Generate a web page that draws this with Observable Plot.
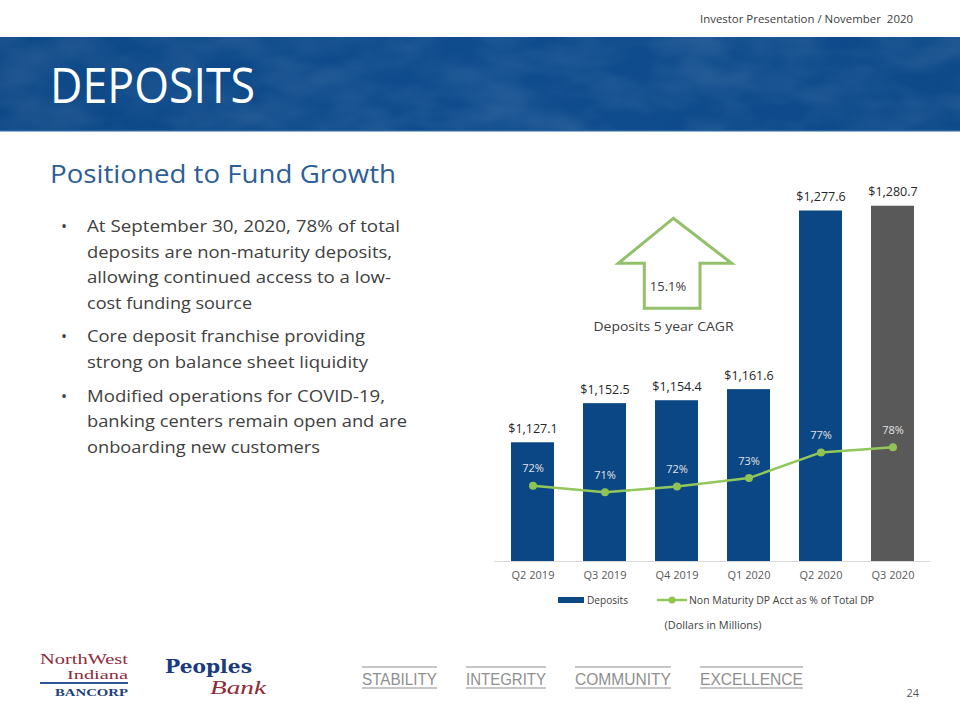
<!DOCTYPE html>
<html><head><meta charset="utf-8">
<script src="https://cdn.jsdelivr.net/npm/d3@7"></script>
<script src="https://cdn.jsdelivr.net/npm/@observablehq/plot@0.6"></script>
<style>
html,body{margin:0;padding:0;background:#fff;}
#slide{position:relative;width:960px;height:720px;overflow:hidden;font-family:"Open Sans",sans-serif;}
#bg{position:absolute;left:0;top:0;}
#chart{position:absolute;left:480px;top:170px;}
#fg{position:absolute;left:0;top:0;pointer-events:none;}
svg text{font-family:"Open Sans",sans-serif;}
</style></head><body>
<div id="slide">
<svg id="bg" width="960" height="720">
  <defs>
    <filter id="noise" x="0" y="0" width="100%" height="100%">
      <feTurbulence type="fractalNoise" baseFrequency="0.015 0.03" numOctaves="3" seed="7"/>
      <feColorMatrix type="matrix" values="0 0 0 0 1  0 0 0 0 1  0 0 0 0 1  0.18 0 0 0 -0.06"/>
    </filter>
    <linearGradient id="band" x1="0" y1="0" x2="1" y2="0">
      <stop offset="0" stop-color="#0D4887"/>
      <stop offset="0.5" stop-color="#0F4C8E"/>
      <stop offset="1" stop-color="#0E4A8A"/>
    </linearGradient>
  </defs>
  <text x="913" y="23" text-anchor="end" font-size="11.5" fill="#404040" style="white-space:pre" textLength="213" lengthAdjust="spacingAndGlyphs">Investor Presentation / November  2020</text>
  <rect x="0" y="37" width="960" height="94" fill="url(#band)"/>
  <rect x="0" y="37" width="960" height="94" fill="#fff" filter="url(#noise)"/>
  <rect x="0" y="130" width="960" height="1.5" fill="#2A62A0"/>
  <text x="50" y="103" font-size="50" fill="#fff" textLength="205" lengthAdjust="spacingAndGlyphs">DEPOSITS</text>

  <text x="50" y="183" font-size="25" fill="#2D5E97" textLength="346" lengthAdjust="spacingAndGlyphs">Positioned to Fund Growth</text>

  <g font-size="16" fill="#404040">
    <text x="61" y="232">•</text>
    <text x="87" y="232" textLength="313" lengthAdjust="spacingAndGlyphs">At September 30, 2020, 78% of total</text>
    <text x="87" y="258" textLength="305" lengthAdjust="spacingAndGlyphs">deposits are non-maturity deposits,</text>
    <text x="87" y="283" textLength="304" lengthAdjust="spacingAndGlyphs">allowing continued access to a low-</text>
    <text x="87" y="308.5" textLength="165" lengthAdjust="spacingAndGlyphs">cost funding source</text>
    <text x="61" y="342">•</text>
    <text x="87" y="342" textLength="278" lengthAdjust="spacingAndGlyphs">Core deposit franchise providing</text>
    <text x="87" y="368" textLength="281" lengthAdjust="spacingAndGlyphs">strong on balance sheet liquidity</text>
    <text x="61" y="402">•</text>
    <text x="87" y="402" textLength="298" lengthAdjust="spacingAndGlyphs">Modified operations for COVID-19,</text>
    <text x="87" y="427" textLength="320" lengthAdjust="spacingAndGlyphs">banking centers remain open and are</text>
    <text x="87" y="452.5" textLength="233" lengthAdjust="spacingAndGlyphs">onboarding new customers</text>
  </g>

  <!-- footer logos -->
  <g>
    <text x="40" y="663.5" font-size="14" fill="#8E2A3A" textLength="88" lengthAdjust="spacingAndGlyphs" style="font-family:'Liberation Serif',serif">NorthWest</text>
    <text x="128" y="679" text-anchor="end" font-size="13.5" fill="#8E2A3A" textLength="61" lengthAdjust="spacingAndGlyphs" style="font-family:'Liberation Serif',serif">Indiana</text>
    <rect x="40" y="682" width="88" height="2" fill="#2F5597"/>
    <text x="55" y="695.5" font-size="11" font-weight="bold" fill="#1E3F7A" textLength="73" lengthAdjust="spacingAndGlyphs" style="font-family:'Liberation Serif',serif">BANCORP</text>
    <text x="165" y="672.5" font-size="19" font-weight="bold" fill="#1B3A80" textLength="87" lengthAdjust="spacingAndGlyphs" style="font-family:'DejaVu Serif',serif">Peoples</text>
    <text x="210" y="694" font-size="18" font-style="italic" fill="#8E2A3A" textLength="56" lengthAdjust="spacingAndGlyphs" style="font-family:'Liberation Serif',serif">Bank</text>
  </g>
  <g fill="#8f8f8f" font-size="16">
    <text x="362" y="684.5" textLength="75" lengthAdjust="spacingAndGlyphs" style="font-family:'Liberation Sans',sans-serif">STABILITY</text>
    <text x="466" y="684.5" textLength="80" lengthAdjust="spacingAndGlyphs" style="font-family:'Liberation Sans',sans-serif">INTEGRITY</text>
    <text x="575" y="684.5" textLength="96" lengthAdjust="spacingAndGlyphs" style="font-family:'Liberation Sans',sans-serif">COMMUNITY</text>
    <text x="700" y="684.5" textLength="103" lengthAdjust="spacingAndGlyphs" style="font-family:'Liberation Sans',sans-serif">EXCELLENCE</text>
  </g>
  <g stroke="#b3b3b3" stroke-width="1.5">
    <line x1="362" x2="437" y1="667" y2="667"/><line x1="362" x2="437" y1="688" y2="688"/>
    <line x1="466" x2="546" y1="667" y2="667"/><line x1="466" x2="546" y1="688" y2="688"/>
    <line x1="575" x2="671" y1="667" y2="667"/><line x1="575" x2="671" y1="688" y2="688"/>
    <line x1="700" x2="803" y1="667" y2="667"/><line x1="700" x2="803" y1="688" y2="688"/>
  </g>
  <text x="919" y="697" text-anchor="end" font-size="11" fill="#595959">24</text>
</svg>
<div id="chart"></div>
<svg id="fg" width="960" height="720">
  <polygon points="673.3,218.3 731.7,263.3 700,263.3 700,308.3 644.3,308.3 644.3,263.3 618.3,263.3" fill="none" stroke="#93C06A" stroke-width="3" stroke-linejoin="miter"/>
  <text x="668" y="290.5" text-anchor="middle" font-size="13" fill="#404040">15.1%</text>
  <text x="663.5" y="331" text-anchor="middle" font-size="13" fill="#404040" textLength="140" lengthAdjust="spacingAndGlyphs">Deposits 5 year CAGR</text>
  <g id="legend"></g>
</svg>
</div>
<script>
// ---- data ----
const quarters = ["Q2 2019", "Q3 2019", "Q4 2019", "Q1 2020", "Q2 2020", "Q3 2020"];
const deposits = [1127.1, 1152.5, 1154.4, 1161.6, 1277.6, 1280.7]; // $ millions
const nonMaturityPct = [71.8, 70.8, 71.7, 73.0, 77.0, 77.8];       // % of total deposits
const seriesNames = ["Deposits", "Non Maturity DP Acct as % of Total DP"];
const unitNote = "(Dollars in Millions)";

const BLUE = "#0B4785", GRAY = "#595959", GREEN = "#8EC453";

// secondary axis (percent) mapped onto the primary deposit axis
const depDomain = [1050, 1300];
const pctScale = d3.scaleLinear().domain([60, 120]).range(depDomain);

const rows = quarters.map((q, i) => ({
  quarter: q,
  deposits: deposits[i],
  pct: nonMaturityPct[i],
  pctY: pctScale(nonMaturityPct[i]),
  color: i === quarters.length - 1 ? GRAY : BLUE
}));

const chart = Plot.plot({
  width: 460, height: 420,
  marginTop: 6, marginBottom: 29, marginLeft: 14.5, marginRight: 9.7,
  style: {fontFamily: "Open Sans", fontSize: "11px", background: "transparent", overflow: "visible"},
  x: {type: "band", domain: quarters, paddingInner: 0.4, paddingOuter: 0.2, align: 0.5, label: null},
  y: {domain: depDomain, axis: null},
  color: {type: "identity"},
  marks: [
    Plot.barY(rows, {x: "quarter", y1: depDomain[0], y2: "deposits", fill: "color"}),
    Plot.ruleY([depDomain[0]], {stroke: "#d9d9d9", strokeWidth: 1}),
    Plot.axisX({tickSize: 0, tickPadding: 10, fontSize: 11, color: "#595959", label: null}),
    Plot.text(rows, {x: "quarter", y: "deposits", text: d => "$" + d3.format(",.1f")(d.deposits), dy: -14, fontSize: 12.5, fill: "#262626"}),
    Plot.line(rows, {x: "quarter", y: "pctY", stroke: "#92C75A", strokeWidth: 2.5}),
    Plot.dot(rows, {x: "quarter", y: "pctY", r: 4, fill: GREEN}),
    Plot.text(rows, {x: "quarter", y: "pctY", text: d => Math.round(d.pct) + "%", dy: -17, fontSize: 11, fill: "#E2E2E2"})
  ]
});
document.getElementById("chart").appendChild(chart);

// legend + note
const lg = d3.select("#legend");
lg.append("rect").attr("x", 558).attr("y", 597).attr("width", 26).attr("height", 6).attr("fill", BLUE);
lg.append("text").attr("x", 587).attr("y", 603.5).attr("font-size", 10).attr("fill", "#404040")
  .attr("textLength", 41).attr("lengthAdjust", "spacingAndGlyphs").text(seriesNames[0]);
lg.append("line").attr("x1", 657).attr("x2", 687).attr("y1", 600).attr("y2", 600).attr("stroke", "#92C75A").attr("stroke-width", 2.5);
lg.append("circle").attr("cx", 672).attr("cy", 600).attr("r", 3.5).attr("fill", GREEN);
lg.append("text").attr("x", 689).attr("y", 603.5).attr("font-size", 10).attr("fill", "#404040")
  .attr("textLength", 185).attr("lengthAdjust", "spacingAndGlyphs").text(seriesNames[1]);
lg.append("text").attr("x", 713).attr("y", 628.5).attr("text-anchor", "middle").attr("font-size", 10).attr("fill", "#404040")
  .attr("textLength", 97).attr("lengthAdjust", "spacingAndGlyphs").text(unitNote);
</script>
</body></html>
